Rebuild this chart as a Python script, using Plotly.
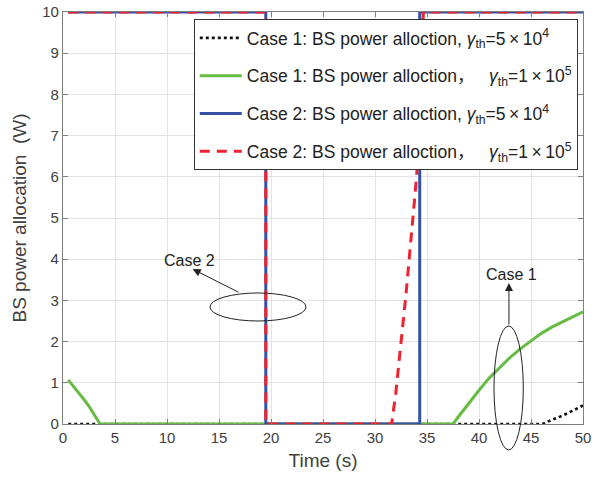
import plotly.graph_objects as go

# ---------------- data ----------------
c1a_x = [0.5, 5, 10, 15, 20, 25, 30, 35, 40, 45, 46.1, 47, 48, 49, 50]
c1a_y = [0, 0, 0, 0, 0, 0, 0, 0, 0, 0, 0, 0.1, 0.2, 0.32, 0.45]

c1b_x = [0.5, 1, 1.5, 2, 2.5, 3, 3.56, 10, 20, 30, 37.5, 38, 39, 40, 41, 42, 43, 44, 45, 46, 47, 48, 49, 50]
c1b_y = [1.07, 0.92, 0.77, 0.6, 0.43, 0.24, 0, 0, 0, 0, 0, 0.17, 0.5, 0.82, 1.12, 1.38, 1.62, 1.83, 2.02, 2.2, 2.35, 2.48, 2.6, 2.72]

c2a_x = [0.5, 19.5, 19.5, 34.3, 34.3, 50]
c2a_y = [10, 10, 0, 0, 10, 10]

c2b_x = [0.5, 19.5, 19.5, 31.6, 32.0, 32.5, 33.0, 33.5, 34.0, 34.3, 34.5, 34.65, 50]
c2b_y = [10, 10, 0, 0, 0.75, 1.95, 3.2, 4.6, 6.0, 7.4, 8.9, 10, 10]

names = [
    "Case 1: BS power alloction, <i>γ</i><sub>th</sub>=5\u2009×\u200910<sup>4</sup>",
    "Case 1: BS power alloction，   <i>γ</i><sub>th</sub>=1\u2009×\u200910<sup>5</sup>",
    "Case 2: BS power alloction, <i>γ</i><sub>th</sub>=5\u2009×\u200910<sup>4</sup>",
    "Case 2: BS power alloction，   <i>γ</i><sub>th</sub>=1\u2009×\u200910<sup>5</sup>",
]

x_ticks = [0, 5, 10, 15, 20, 25, 30, 35, 40, 45, 50]
y_ticks = [0, 1, 2, 3, 4, 5, 6, 7, 8, 9, 10]
XR = [0, 50]
YR = [0, 10]

FONT = "Liberation Sans, Arial, Noto Sans CJK SC, sans-serif"

fig = go.Figure()
fig.add_trace(go.Scatter(x=c1a_x, y=c1a_y, mode="lines", name=names[0], legendgroup="g1",
                         line=dict(color="#111111", width=2.6, dash="dot")))
fig.add_trace(go.Scatter(x=c1b_x, y=c1b_y, mode="lines", name=names[1], legendgroup="g2",
                         line=dict(color="#66BB44", width=3)))
fig.add_trace(go.Scatter(x=c2a_x, y=c2a_y, mode="lines", name=names[2], legendgroup="g3",
                         line=dict(color="#3451A5", width=3)))
fig.add_trace(go.Scatter(x=c2b_x, y=c2b_y, mode="lines", name=names[3], legendgroup="g4",
                         line=dict(color="#EE2230", width=3, dash="10px,7px")))


def px(x):
    return (x - XR[0]) / (XR[1] - XR[0])


def py(y):
    return (y - YR[0]) / (YR[1] - YR[0])


shapes = [
    dict(type="circle", xref="paper", yref="paper", x0=px(14.13), x1=px(23.37),
         y0=py(2.5), y1=py(3.18), line=dict(color="#222222", width=1)),
    dict(type="circle", xref="paper", yref="paper", x0=px(41.44), x1=px(44.26),
         y0=py(-0.63), y1=py(2.38), line=dict(color="#222222", width=1)),
]

annotations = [
    dict(x=12.47, y=3.76, ax=17.02, ay=3.18, xref="x", yref="y", axref="x", ayref="y",
         text="", showarrow=True, arrowhead=2, arrowsize=1.6, arrowwidth=1, arrowcolor="#222222"),
    dict(x=42.88, y=3.42, ax=42.88, ay=2.38, xref="x", yref="y", axref="x", ayref="y",
         text="", showarrow=True, arrowhead=2, arrowsize=1.6, arrowwidth=1, arrowcolor="#222222"),
    dict(x=12.2, y=3.98, xref="x", yref="y", text="Case 2", showarrow=False,
         font=dict(size=16, color="#222222", family=FONT)),
    dict(x=43.1, y=3.64, xref="x", yref="y", text="Case 1", showarrow=False,
         font=dict(size=16, color="#222222", family=FONT)),
]

axis_common = dict(
    showgrid=True, gridcolor="#E3E3E3", gridwidth=1,
    showline=True, linecolor="#7F7F7F", linewidth=1.2, mirror="ticks",
    ticks="inside", ticklen=5, tickcolor="#7F7F7F",
    tickfont=dict(size=15, color="#404040", family=FONT),
    zeroline=False, automargin=False, ticklabeloverflow="allow",
)

fig.update_layout(
    width=603, height=481,
    margin=dict(l=63, r=20, t=12, b=57, pad=0),
    paper_bgcolor="white", plot_bgcolor="white",
    font=dict(family=FONT),
    xaxis=dict(range=XR, tickvals=x_ticks,
               title=dict(text="Time (s)", font=dict(size=19, color="#404040"), standoff=8),
               **axis_common),
    yaxis=dict(range=YR, tickvals=y_ticks,
               title=dict(text="BS power allocation  (W)", font=dict(size=19, color="#404040"), standoff=10),
               **axis_common),
    legend=dict(x=0.99, y=0.983, xanchor="right", yanchor="top",
                bgcolor="white", bordercolor="#333333", borderwidth=1,
                font=dict(size=17.5, color="#222222", family=FONT),
                itemwidth=42, tracegroupgap=12),
    shapes=shapes,
    annotations=annotations,
    showlegend=True,
)

fig.write_html("out.html", config={"displayModeBar": False},
               post_script="document.body.style.margin='0';")
